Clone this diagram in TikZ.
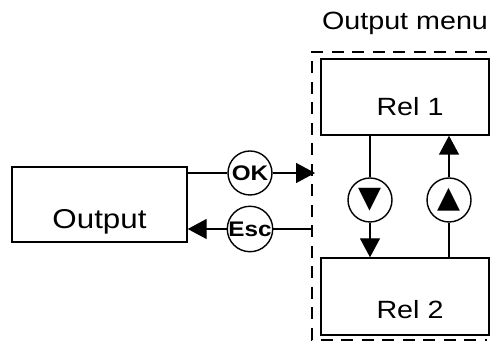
\documentclass[tikz,border=0pt]{standalone}
\usepackage{fontspec}
\setmainfont{Liberation Sans}
\newfontfamily\diafont[FakeStretch=1.15]{Liberation Sans}
\newfontfamily\symfont{DejaVu Sans}
\usetikzlibrary{calc, positioning, arrows.meta}

\begin{document}
\begin{tikzpicture}[
    box/.style={draw, line width=0.8pt, minimum width=3.36cm, minimum height=1.52cm},
    key/.style={draw, circle, line width=0.8pt, minimum size=0.88cm, inner sep=0pt,
      font=\diafont\fontsize{12}{14}\selectfont\bfseries},
    txt/.style={font=\diafont\fontsize{14.2}{17}\selectfont, inner sep=0pt},
    sym/.style={font=\symfont\fontsize{17}{19}\selectfont},
    wire/.style={line width=0.8pt},
    arrow/.style={-{Triangle[length=0.38cm, width=0.4cm]}, line width=0.8pt},
    frame/.style={line width=0.8pt, dash pattern=on 0.24cm off 0.17cm},
  ]
    \useasboundingbox (0,0) rectangle (10.02,6.88);
    % boxes
    \node[box, minimum width=3.5cm, minimum height=1.5cm] (out) at (1.99,2.79) {};
    \node[txt, font=\diafont\fontsize{15.5}{18}\selectfont, anchor=base] (outtxt)
      at ([yshift=0.28cm]out.south) {Output};
    \node[box] (rel1) at (8.10,4.94) {};
    \node[txt, anchor=base] (rel1txt) at ([xshift=0.1cm, yshift=0.40cm]rel1.south) {Rel 1};
    \node[box, minimum height=1.54cm] (rel2) at (8.10,0.95) {};
    \node[txt, anchor=base] (rel2txt) at ([xshift=0.1cm, yshift=0.34cm]rel2.south) {Rel 2};
    \node[txt] (title) at (8.10,6.42) {Output menu};
    % menu frame
    \draw[frame] (9.74,5.84) -- (6.24,5.84) -- (6.24,0.08) -- (9.74,0.08);
    % keys
    \node[key] (ok) at (5.0,3.42) {OK};
    \node[key] (esc) at (5.0,2.30) {Esc};
    \node[key] (dn) at (7.40,2.88) {};
    \node[sym] (dnsym) at (dn) {▼};
    \node[key] (up) at (8.98,2.88) {};
    \node[sym] (upsym) at (up) {▲};
    \coordinate (okend) at (6.30,3.42);
    \coordinate (escend) at (6.26,2.30);
    % connectors
    \draw[wire] (out.east |- ok) -- (ok);
    \draw[arrow] (ok) -- (okend);
    \draw[wire] (escend) -- (esc);
    \draw[arrow] (esc) -- (out.east |- esc);
    \draw[wire] (rel1.south -| dn) -- (dn);
    \draw[arrow] (dn) -- (rel2.north -| dn);
    \draw[wire] (rel2.north -| up) -- (up);
    \draw[arrow] (up) -- (rel1.south -| up);
\end{tikzpicture}
\end{document}
